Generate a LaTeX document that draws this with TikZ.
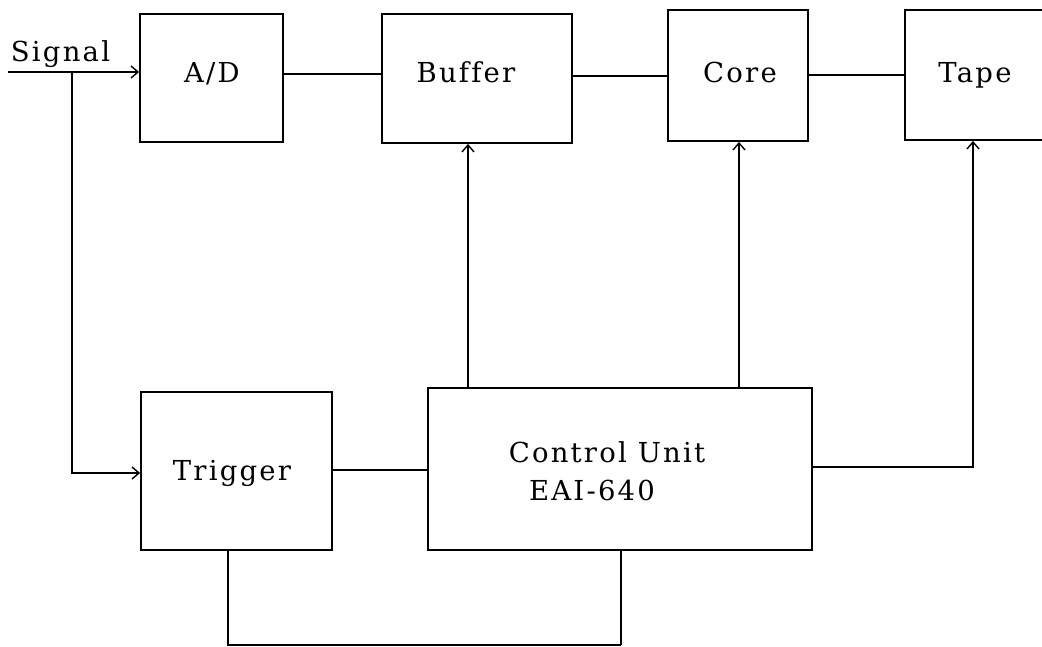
\documentclass[tikz,border=0pt]{standalone}
\usepackage{fontspec}
\setmainfont{DejaVu Serif}[LetterSpace=8,Ligatures=NoCommon]
\usetikzlibrary{arrows.meta,calc}
\begin{document}
\begin{tikzpicture}[x=1pt,y=-1pt,
  box/.style={draw, line width=1.8pt, inner sep=0pt},
  conn/.style={line width=1.3pt},
  thick conn/.style={line width=2pt},
  arr/.style={conn, -{Straight Barb[length=7pt,width=12pt,line width=1.4pt]}},
  lbl/.style={font=\fontsize{27.5}{32}\selectfont, inner sep=0pt, anchor=base}
]
\useasboundingbox (0,0) rectangle (1042,647);

% boxes
\node[box, minimum width=143pt, minimum height=128pt] (ad)   at (211.5,78)  {};
\node[box, minimum width=190pt, minimum height=129pt] (buf)  at (477,78.5)  {};
\node[box, minimum width=140pt, minimum height=131pt] (core) at (738,75.5)  {};
\node[box, minimum width=143pt, minimum height=130pt] (tape) at (976.5,75)  {};
\node[box, minimum width=191pt, minimum height=158pt] (trig) at (236.5,471) {};
\node[box, minimum width=384pt, minimum height=162pt] (ctrl) at (620,469)   {};

% labels
\node[lbl] (tsig)  at (60.5,62) {Signal};
\node[lbl] (tad)   at (212,83)  {A/D};
\node[lbl] (tbuf)  at (466,83)  {Buffer};
\node[lbl] (tcore) at (740,83)  {Core};
\node[lbl] (ttape) at (975,83)  {Tape};
\node[lbl] (ttrig) at (232,480) {Trigger};
\node[lbl] (tctl1) at (607,462) {Control Unit};
\node[lbl] (tctl2) at (592,500) {EAI-640};

% helper coordinates
\coordinate (sigin) at (8,72);
\coordinate (sigjun) at (72,72);
\coordinate (trigin) at (0,473);
\coordinate (row1) at (0,74);
\coordinate (row2) at (0,76);
\coordinate (row3) at (0,75);
\coordinate (row4) at (0,470);
\coordinate (row5) at (0,467);
\coordinate (bx) at (468,0);
\coordinate (cx) at (739,0);
\coordinate (tx) at (973,0);
\coordinate (bl) at (228,645);
\coordinate (br) at (621,645);

% connectors
\draw[arr] (sigin) -- (sigin -| ad.west);
\draw[arr] (sigjun) |- (trigin -| trig.west);
\draw[conn] (ad.east |- row1) -- (buf.west |- row1);
\draw[thick conn] (buf.east |- row2) -- (core.west |- row2);
\draw[conn] (core.east |- row3) -- (tape.west |- row3);
\draw[arr] (ctrl.north -| bx) -- (buf.south -| bx);
\draw[arr] (ctrl.north -| cx) -- (core.south -| cx);
\draw[arr] (ctrl.east |- row5) -| (tape.south -| tx);
\draw[conn] (trig.east |- row4) -- (ctrl.west |- row4);
\draw[thick conn] (trig.south -| bl) -- (bl) -- (br);
\draw[conn] (br) -- (ctrl.south -| br);
\end{tikzpicture}
\end{document}
